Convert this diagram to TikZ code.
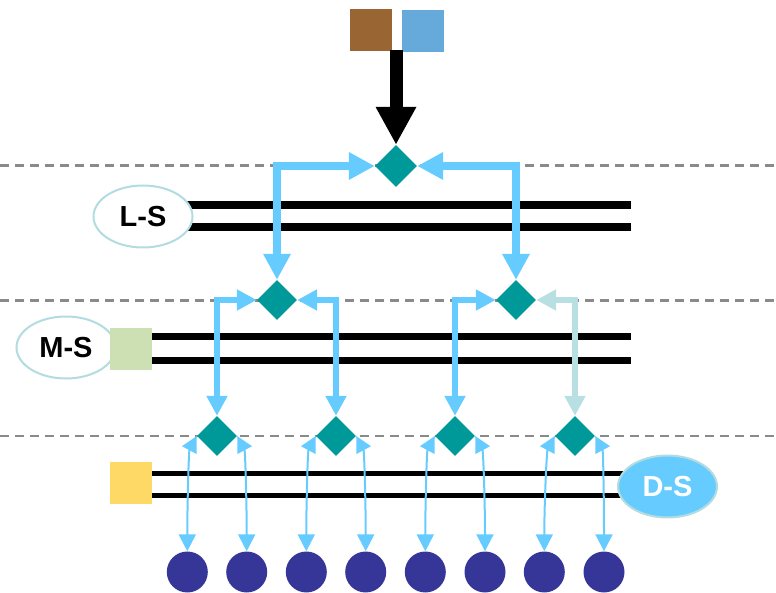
\documentclass[tikz,border=0pt]{standalone}
\usepackage{fontspec}
\setmainfont{Liberation Sans}
\usetikzlibrary{arrows.meta,shapes.geometric}

\definecolor{hubteal}{HTML}{009999}
\definecolor{feedblue}{HTML}{66CCFF}
\definecolor{feedpale}{HTML}{B8E0E3}
\definecolor{rimteal}{HTML}{B3DCE0}
\definecolor{leafnavy}{HTML}{363699}
\definecolor{srcbrown}{HTML}{996633}
\definecolor{srcblue}{HTML}{66AADC}
\definecolor{sagegreen}{HTML}{CCE0B4}
\definecolor{sunyellow}{HTML}{FFD966}
\definecolor{guidegray}{HTML}{8A8A8A}

\begin{document}
\begin{tikzpicture}[x=1pt,y=-1pt,
  hub/.style={diamond,fill=hubteal,draw=none,inner sep=0pt,minimum width=40pt,minimum height=40pt},
  tophub/.style={hub,minimum width=42pt,minimum height=42pt},
  leaf/.style={circle,fill=leafnavy,draw=none,inner sep=0pt,minimum size=41pt},
  tag/.style={ellipse,draw=rimteal,line width=2pt,fill=white,inner sep=0pt,
    minimum width=99pt,minimum height=62pt,
    font=\bfseries\fontsize{29}{29}\selectfont},
  swatch/.style={rectangle,draw=none,inner sep=0pt,minimum size=42pt},
  guide/.style={guidegray,line width=2.5pt,dash pattern=on 9pt off 6pt},
  rail/.style={black,line width=8pt},
  thinrail/.style={black,line width=5pt},
  feedA/.style={feedblue,line width=8pt,
    {Triangle[length=26pt,width=26pt]}-{Triangle[length=26pt,width=26pt]}},
  feedB/.style={feedblue,line width=6pt,
    {Triangle[length=20pt,width=20pt]}-{Triangle[length=20pt,width=20pt]}},
  feedC/.style={feedblue,line width=2pt,
    {Triangle[length=16pt,width=16pt]}-{Triangle[length=17pt,width=17pt]}}
]
\useasboundingbox (0,0) rectangle (776,593);

% level separators
\draw[guide] (0,165.5) -- (776,165.5);
\draw[guide] (0,300.5) -- (776,300.5);
\draw[guide] (0,436) -- (776,436);

% source blocks and main feed
\node[swatch,fill=srcbrown] (srcA) at (371,30) {};
\node[swatch,fill=srcblue]  (srcB) at (423,31) {};
\coordinate (src) at (396,50);

% hubs
\node[tophub] (h0) at (396,166) {};
\node[hub] (h1) at (277,300) {};
\node[hub] (h2) at (516,300) {};
\node[hub] (g1) at (217,436) {};
\node[hub] (g2) at (336,436) {};
\node[hub] (g3) at (455,436) {};
\node[hub] (g4) at (575,436) {};

% bus rails
\coordinate (lsA) at (185,205);  \coordinate (lsAe) at (631,205);
\coordinate (lsB) at (185,227);  \coordinate (lsBe) at (631,227);
\coordinate (msA) at (150,337);  \coordinate (msAe) at (631,337);
\coordinate (msB) at (150,360.5);\coordinate (msBe) at (631,360.5);
\coordinate (dsA) at (150,473);  \coordinate (dsAe) at (640,473);
\coordinate (dsB) at (150,495);  \coordinate (dsBe) at (640,495);
\draw[rail] (lsA) -- (lsAe);
\draw[rail] (lsB) -- (lsBe);
\draw[rail,line width=7pt] (msA) -- (msAe);
\draw[rail,line width=7pt] (msB) -- (msBe);
\draw[thinrail] (dsA) -- (dsAe);
\draw[thinrail] (dsB) -- (dsBe);

% labels and swatches
\node[tag] (ls) at (143,216.5) {L-S};
\node[tag] (ms) at (66,347.5) {M-S};
\node[swatch,fill=sagegreen] (msq) at (131,349) {};
\node[swatch,fill=sunyellow] (dsq) at (131,483) {};
\node[tag,fill=feedblue,text=white] (ds) at (667.5,486.5) {D-S};

% main feed arrow
\draw[black,line width=13pt,-{Triangle[length=38pt,width=38pt]}] (src) -- (h0.north);

% first split
\draw[feedA] (h0.west) -| (h1.north);
\draw[feedA] (h0.east) -| (h2.north);

% second split
\draw[feedB] (h1.west) -| (g1.north);
\draw[feedB] (h1.east) -| (g2.north);
\draw[feedB] (h2.west) -| (g3.north);
\draw[feedB,feedpale] (h2.east) -| (g4.north);

% leaves
\node[leaf] (c1) at (187.3,572) {};
\node[leaf] (c2) at (246.7,572) {};
\node[leaf] (c3) at (306.3,572) {};
\node[leaf] (c4) at (365.7,572) {};
\node[leaf] (c5) at (425.3,572) {};
\node[leaf] (c6) at (485,572) {};
\node[leaf] (c7) at (544.3,572) {};
\node[leaf] (c8) at (604,572) {};

% drops to leaves
\foreach \g/\l/\r in {g1/c1/c2,g2/c3/c4,g3/c5/c6,g4/c7/c8}{
  \draw[feedC] (\g.west) .. controls +(-8,15) and +(0,-50) .. (\l.north);
  \draw[feedC] (\g.east) .. controls +(8,15) and +(0,-50) .. (\r.north);
}
\end{tikzpicture}
\end{document}
